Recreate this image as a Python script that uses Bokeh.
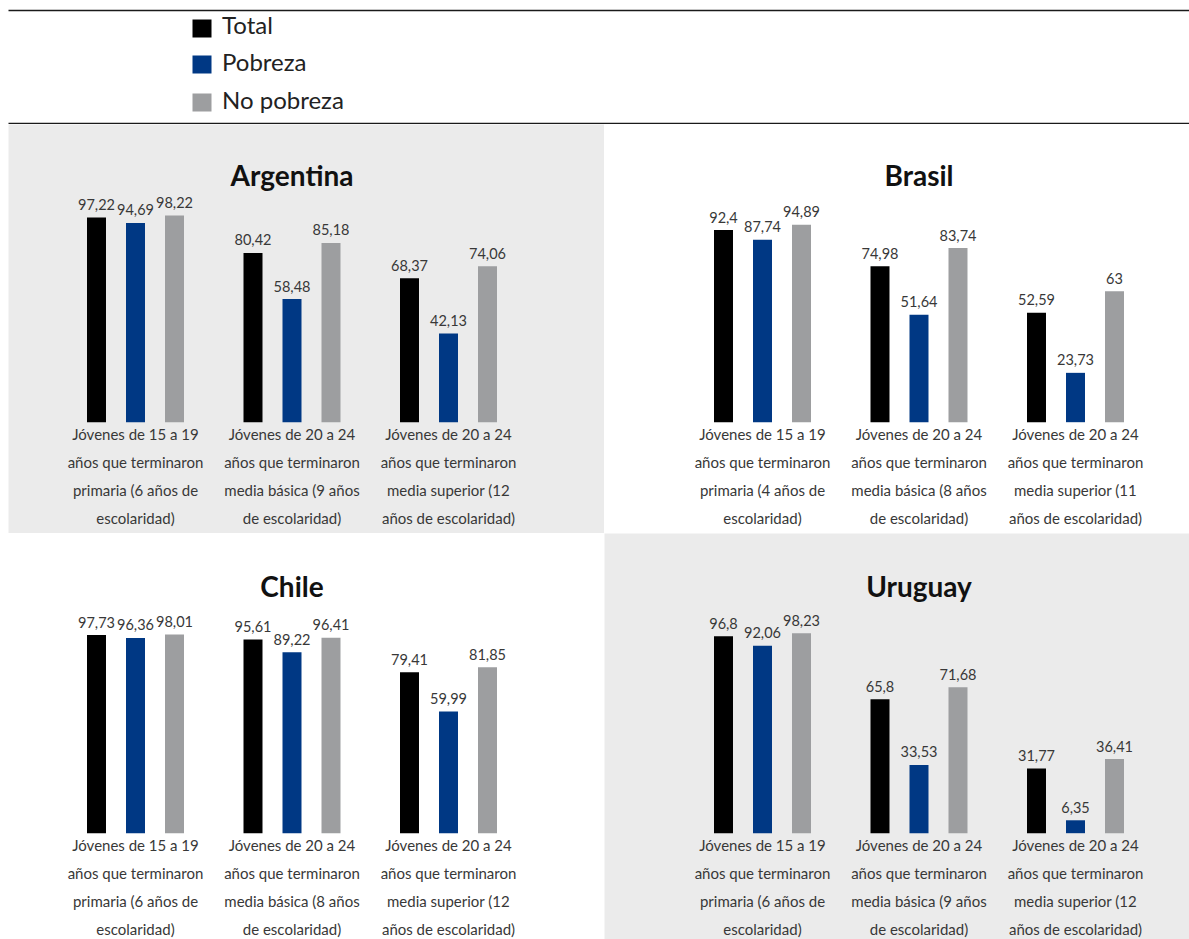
from bokeh.plotting import figure
from bokeh.models import ColumnDataSource, Range1d, Spacer
from bokeh.layouts import column, row
from bokeh.transform import dodge
from bokeh.core.properties import value
from bokeh.embed import file_html
from bokeh.resources import INLINE

# ---- data -----------------------------------------------------------------
series = ["Total", "Pobreza", "No pobreza"]
series_colors = ["#000000", "#003884", "#9d9ea0"]

countries = ["Argentina", "Brasil", "Chile", "Uruguay"]

argentina_total = [97.22, 80.42, 68.37]
argentina_pobreza = [94.69, 58.48, 42.13]
argentina_no_pobreza = [98.22, 85.18, 74.06]

brasil_total = [92.4, 74.98, 52.59]
brasil_pobreza = [87.74, 51.64, 23.73]
brasil_no_pobreza = [94.89, 83.74, 63]

chile_total = [97.73, 95.61, 79.41]
chile_pobreza = [96.36, 89.22, 59.99]
chile_no_pobreza = [98.01, 96.41, 81.85]

uruguay_total = [96.8, 65.8, 31.77]
uruguay_pobreza = [92.06, 33.53, 6.35]
uruguay_no_pobreza = [98.23, 71.68, 36.41]

argentina_groups = [
    "Jóvenes de 15 a 19\naños que terminaron\nprimaria (6 años de\nescolaridad)",
    "Jóvenes de 20 a 24\naños que terminaron\nmedia básica (9 años\nde escolaridad)",
    "Jóvenes de 20 a 24\naños que terminaron\nmedia superior (12\naños de escolaridad)",
]
brasil_groups = [
    "Jóvenes de 15 a 19\naños que terminaron\nprimaria (4 años de\nescolaridad)",
    "Jóvenes de 20 a 24\naños que terminaron\nmedia básica (8 años\nde escolaridad)",
    "Jóvenes de 20 a 24\naños que terminaron\nmedia superior (11\naños de escolaridad)",
]
chile_groups = [
    "Jóvenes de 15 a 19\naños que terminaron\nprimaria (6 años de\nescolaridad)",
    "Jóvenes de 20 a 24\naños que terminaron\nmedia básica (8 años\nde escolaridad)",
    "Jóvenes de 20 a 24\naños que terminaron\nmedia superior (12\naños de escolaridad)",
]
uruguay_groups = [
    "Jóvenes de 15 a 19\naños que terminaron\nprimaria (6 años de\nescolaridad)",
    "Jóvenes de 20 a 24\naños que terminaron\nmedia básica (9 años\nde escolaridad)",
    "Jóvenes de 20 a 24\naños que terminaron\nmedia superior (12\naños de escolaridad)",
]

# ---- styling --------------------------------------------------------------
FONT = "Lato"
PANEL_GREY = "#ebebeb"
TEXT_DARK = "#383838"
GROUP_PX = 156.5              # pixels per group on the x scale
BAR_OFFSETS = [-0.2492, 0.0, 0.2492]
BAR_WIDTH = 0.1214


def fmt(v):
    return f"{v:g}".replace(".", ",")


def panel(name, groups, values, width, height, center_px, base_px, scale, bg):
    x0 = 1 - center_px / GROUP_PX
    y0 = -base_px / scale
    p = figure(
        width=width, height=height,
        x_range=Range1d(x0, x0 + width / GROUP_PX),
        y_range=Range1d(y0, y0 + height / scale),
        toolbar_location=None, output_backend="svg",
        x_axis_location=None, y_axis_location=None,
        min_border=0, outline_line_color=None,
        background_fill_color=bg, border_fill_color=bg,
    )
    p.grid.visible = False

    idx = list(range(len(groups)))
    for off, vals, color in zip(BAR_OFFSETS, values, series_colors):
        src = ColumnDataSource(dict(g=idx, v=vals, lbl=[fmt(v) for v in vals]))
        p.vbar(x=dodge("g", off, range=p.x_range), top="v", bottom=0,
               width=BAR_WIDTH, fill_color=color, line_color=None, source=src)
        p.text(x=dodge("g", off, range=p.x_range), y="v", text="lbl", source=src,
               text_align="center", text_baseline="middle", y_offset=-13,
               text_font=value(FONT), text_font_size="14.5px", text_color=TEXT_DARK)

    # multi-line category captions under each group
    xs, ys, ts, offs = [], [], [], []
    for g, lab in enumerate(groups):
        for j, line in enumerate(lab.split("\n")):
            xs.append(g)
            ys.append(0)
            ts.append(line)
            offs.append(12 + 27.8 * j)
    p.text(x="x", y="y", text="t", y_offset="o",
           source=ColumnDataSource(dict(x=xs, y=ys, t=ts, o=offs)),
           text_align="center", text_baseline="middle",
           text_font=value(FONT), text_font_size="15px", text_color=TEXT_DARK)

    # country title above the middle group
    p.text(x=[1], y=[0], text=[name], y_offset=-247.5,
           text_align="center", text_baseline="middle",
           text_font=value(FONT), text_font_style="bold",
           text_font_size="28px", text_color="#111111")
    return p


# ---- header with rules and legend ------------------------------------------
header = figure(
    width=1189, height=124,
    x_range=Range1d(0, 1189), y_range=Range1d(124, 0),
    toolbar_location=None, output_backend="svg",
    x_axis_location=None, y_axis_location=None,
    min_border=0, outline_line_color=None,
)
header.grid.visible = False
header.segment(x0=[8, 8], y0=[10, 123], x1=[1189, 1189], y1=[10, 123],
               line_color="#1a1a1a", line_width=1.6)
legend_rows = [28, 64, 102]
header.rect(x=[201.5] * 3, y=legend_rows, width=19, height=18,
            fill_color=series_colors, line_color=None)
header.text(x=[221.5] * 3, y=[24, 61, 99], text=series,
            text_align="left", text_baseline="middle",
            text_font=value(FONT), text_font_size="24px", text_color="#222222")

# ---- panels ----------------------------------------------------------------
p_arg = panel(countries[0], argentina_groups,
              [argentina_total, argentina_pobreza, argentina_no_pobreza],
              596, 409, 283.5, 111.3, 2.105, PANEL_GREY)
p_bra = panel(countries[1], brasil_groups,
              [brasil_total, brasil_pobreza, brasil_no_pobreza],
              585, 409, 314.5, 111.3, 2.08, "#ffffff")
p_chi = panel(countries[2], chile_groups,
              [chile_total, chile_pobreza, chile_no_pobreza],
              596, 406, 283.5, 106.3, 2.027, "#ffffff")
p_uru = panel(countries[3], uruguay_groups,
              [uruguay_total, uruguay_pobreza, uruguay_no_pobreza],
              585, 406, 314.5, 106.3, 2.035, PANEL_GREY)

layout = column(
    header,
    row(Spacer(width=8, height=409), p_arg, p_bra),
    row(Spacer(width=8, height=406), p_chi, p_uru),
)

open("out.html", "w").write(file_html(layout, INLINE))
